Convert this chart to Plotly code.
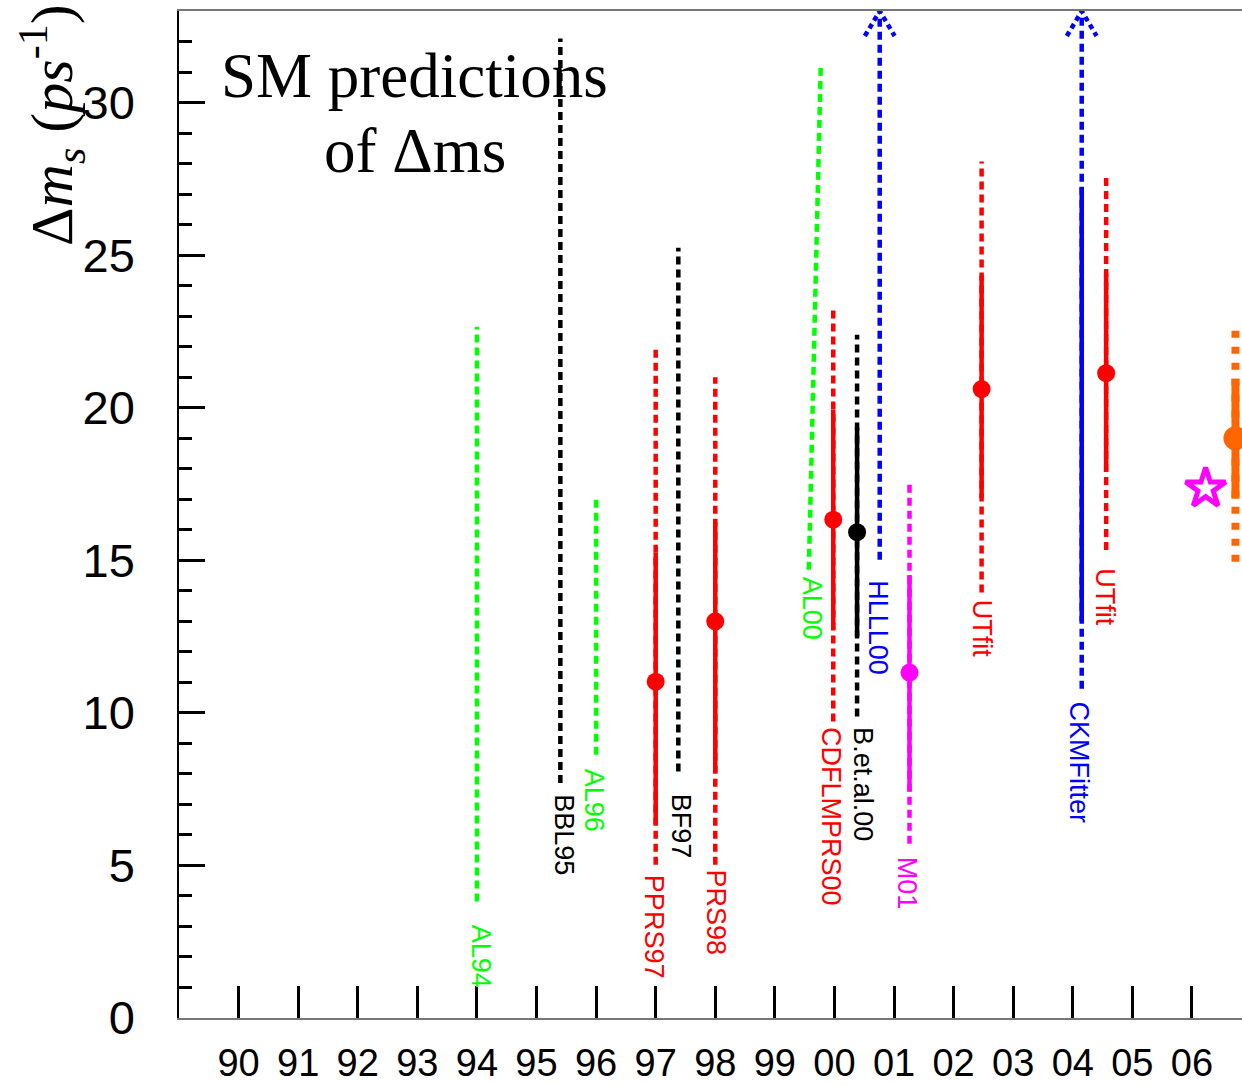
import plotly.graph_objects as go

# ---------------- data ----------------
labels = ["AL94", "BBL95", "AL96", "PPRS97", "BF97", "PRS98", "AL00",
          "CDFLMPRS00", "B.et.al.00", "HLLL00", "M01", "UTfit", "CKMFitter", "UTfit"]
colors = ["#00ff00", "#000000", "#00ff00", "#ff0000", "#000000", "#ff0000", "#00ff00",
          "#ff0000", "#000000", "#0000ff", "#ff00ff", "#ff0000", "#0000ff", "#ff0000"]
x_bottom = [94.0, 95.40, 96.0, 97.0, 97.38, 98.0, 99.57, 99.98, 100.38, 100.76, 101.26, 102.47, 104.15, 104.56]
x_top = [94.0, 95.40, 96.0, 97.0, 97.38, 98.0, 99.77, 99.98, 100.38, 100.76, 101.26, 102.47, 104.15, 104.56]
range_lo = [3.82, 7.70, 8.63, 5.02, 8.08, 5.02, 14.69, 9.72, 9.88, 15.02, 5.71, 13.94, 10.79, 15.34]
range_hi = [22.65, 32.10, 16.98, 21.97, 25.24, 21.00, 31.18, 23.30, 22.39, 33.0, 17.58, 28.07, 33.0, 27.69]
core_lo = [None, None, None, 6.33, None, 8.04, None, 12.72, 12.50, None, 7.42, 17.04, 13.00, 17.91]
core_hi = [None, None, None, 15.25, None, 16.24, None, 19.93, 19.35, None, 14.52, 24.32, 27.22, 24.39]
central = [None, None, None, 11.02, None, 13.00, None, 16.33, 15.92, None, 11.32, 20.61, None, 21.13]
open_above = [False, False, False, False, False, False, False, False, False, True, False, False, True, False]
label_x = [94.06, 95.47, 95.97, 96.97, 97.43, 98.02, 99.62, 99.93, 100.49, 100.72, 101.21, 102.47, 104.11, 104.55]
label_top = [3.12, 7.40, 8.24, 4.76, 7.42, 4.92, 14.52, 9.61, 9.61, 14.42, 5.35, 13.77, 10.43, 14.80]

# measurement (orange) and star
meas_x = [106.73]
meas_range = [14.95, 22.82]
meas_core = [17.02, 20.95]
meas_val = [19.0]
star_x = [106.23]
star_y = [17.35]

year_ticks = list(range(90, 107))
year_text = ["90", "91", "92", "93", "94", "95", "96", "97", "98", "99",
             "00", "01", "02", "03", "04", "05", "06"]
y_ticks = [0, 5, 10, 15, 20, 25, 30]

# ---------------- figure ----------------
fig = go.Figure()
DASH = "8px,5px"
LW = 4.5

for i in range(len(labels)):
    c = colors[i]
    fig.add_trace(go.Scatter(x=[x_bottom[i], x_top[i]], y=[range_lo[i], range_hi[i]],
                             mode="lines", line=dict(color=c, width=LW, dash=DASH),
                             hoverinfo="skip", showlegend=False))
    if core_lo[i] is not None:
        fig.add_trace(go.Scatter(x=[x_bottom[i], x_bottom[i]], y=[core_lo[i], core_hi[i]],
                                 mode="lines", line=dict(color=c, width=LW),
                                 hoverinfo="skip", showlegend=False))
    if central[i] is not None:
        fig.add_trace(go.Scatter(x=[x_bottom[i]], y=[central[i]], mode="markers",
                                 marker=dict(color=c, size=18, line=dict(width=0)),
                                 showlegend=False))
    if open_above[i]:
        xc = x_top[i]
        fig.add_trace(go.Scatter(x=[xc - 0.25, xc, xc + 0.25],
                                 y=[range_hi[i] - 0.82, range_hi[i], range_hi[i] - 0.82],
                                 mode="lines", line=dict(color=c, width=LW, dash="5px,4px"),
                                 hoverinfo="skip", showlegend=False))
    fig.add_annotation(x=label_x[i], y=label_top[i], xref="x", yref="y",
                       text=labels[i], textangle=90, showarrow=False,
                       xanchor="center", yanchor="top",
                       font=dict(family="Liberation Sans, Arial, sans-serif", size=27, color=c))

# orange measurement
fig.add_trace(go.Scatter(x=[meas_x[0], meas_x[0]], y=meas_range, mode="lines",
                         line=dict(color="#ff6600", width=8, dash="7px,9px"),
                         hoverinfo="skip", showlegend=False))
fig.add_trace(go.Scatter(x=[meas_x[0], meas_x[0]], y=meas_core, mode="lines",
                         line=dict(color="#ff6600", width=8),
                         hoverinfo="skip", showlegend=False))
fig.add_trace(go.Scatter(x=meas_x, y=meas_val, mode="markers",
                         marker=dict(color="#ff6600", size=24, line=dict(width=0)),
                         showlegend=False))
# star
fig.add_trace(go.Scatter(x=star_x, y=star_y, mode="markers",
                         marker=dict(symbol="star-open", color="#ff00ff", size=30,
                                     line=dict(color="#ff00ff", width=5)),
                         showlegend=False))

# title text
SERIF = "Liberation Serif, Times New Roman, serif"
fig.add_annotation(x=(414.5 - 179) / 1063, y=(1018 - 76) / 1007, xref="paper", yref="paper",
                   text="SM predictions", showarrow=False, xanchor="center", yanchor="middle",
                   font=dict(family=SERIF, size=63, color="black"))
fig.add_annotation(x=(414.5 - 179) / 1063, y=(1018 - 151) / 1007, xref="paper", yref="paper",
                   text="of Δms", showarrow=False, xanchor="center", yanchor="middle",
                   font=dict(family=SERIF, size=63, color="black"))
# y axis title
fig.add_annotation(x=(52 - 179) / 1063, y=(1018 - 125) / 1007, xref="paper", yref="paper",
                   text="Δ<i>m</i><sub><i>s</i></sub> (<i>ps</i><sup>-1</sup>)",
                   textangle=-90, showarrow=False, xanchor="center", yanchor="middle",
                   font=dict(family=SERIF, size=60, color="black"))

fig.update_layout(
    width=1242, height=1085,
    margin=dict(l=179, r=0, t=11, b=67),
    paper_bgcolor="white", plot_bgcolor="white",
    showlegend=False,
    xaxis=dict(range=[89, 106.84], tickmode="array", tickvals=year_ticks, ticktext=year_text,
               ticks="inside", ticklen=32, tickwidth=3, tickcolor="black",
               showline=True, linecolor="#777777", linewidth=1.5, mirror=True,
               showgrid=False, zeroline=False, ticklabelstandoff=11, automargin=False,
               tickfont=dict(family="Liberation Sans, Arial, sans-serif", size=38, color="black")),
    yaxis=dict(range=[0, 33], tickmode="array", tickvals=y_ticks,
               ticks="inside", ticklen=26, tickwidth=3, tickcolor="black",
               minor=dict(dtick=1, ticks="inside", ticklen=13, tickwidth=3, tickcolor="black"),
               showline=True, linecolor="black", linewidth=1.5,
               showgrid=False, zeroline=False, ticklabelstandoff=33, automargin=False,
               tickfont=dict(family="Liberation Sans, Arial, sans-serif", size=47, color="black")),
)

fig.write_html("out.html")
